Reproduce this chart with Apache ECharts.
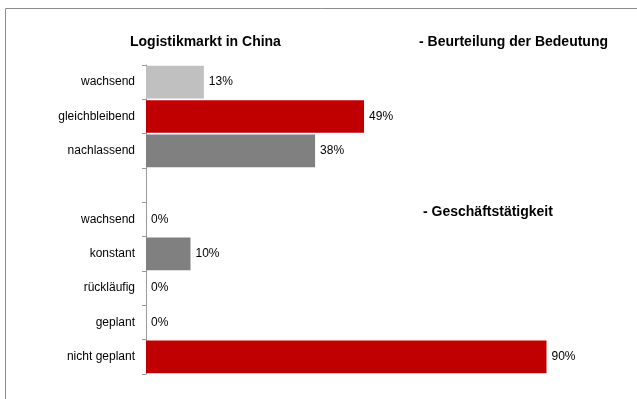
<!DOCTYPE html>
<html>
<head>
<meta charset="utf-8">
<script src="https://cdn.jsdelivr.net/npm/echarts@6/dist/echarts.min.js"></script>
<style>
html,body{margin:0;padding:0;background:#fff;}
#c{width:637px;height:399px;}
</style>
</head>
<body>
<div id="c"></div>
<script>
// Data
var categories = ['wachsend', 'gleichbleibend', 'nachlassend', '', 'wachsend', 'konstant', 'rückläufig', 'geplant', 'nicht geplant'];
var values = [13, 49, 38, null, 0, 10, 0, 0, 90];
var barColors = ['#C0C0C0', '#C00000', '#808080', '#808080', '#808080', '#808080', '#808080', '#808080', '#C00000'];
var titleMain = 'Logistikmarkt in China';
var titleGroup1 = '- Beurteilung der Bedeutung';
var titleGroup2 = '- Geschäftstätigkeit';

var chart = echarts.init(document.getElementById('c'), null, {renderer: 'canvas'});
var font = '"Liberation Sans", Arial, sans-serif';

var seriesData = values.map(function (v, i) {
  return {
    value: v === null ? '-' : v,
    itemStyle: {color: barColors[i]}
  };
});

chart.setOption({
  animation: false,
  backgroundColor: '#fff',
  textStyle: {fontFamily: font},
  graphic: [
    {type: 'rect', shape: {x: 5.5, y: 8.5, width: 660, height: 420},
     style: {fill: 'none', stroke: '#8c8c8c', lineWidth: 1}, z: -1},
    {type: 'text', left: 130, top: 35,
     style: {text: titleMain, font: 'bold 14px ' + font, fill: '#000'}},
    {type: 'text', left: 419, top: 35,
     style: {text: titleGroup1, font: 'bold 14px ' + font, fill: '#000'}},
    {type: 'text', left: 423, top: 205,
     style: {text: titleGroup2, font: 'bold 14px ' + font, fill: '#000'}}
  ],
  grid: {left: 146, right: 46, top: 65, bottom: 25, containLabel: false},
  xAxis: {
    type: 'value', min: 0, max: 100, show: false,
    splitLine: {show: false}
  },
  yAxis: {
    type: 'category',
    data: categories,
    inverse: true,
    axisLine: {show: true, lineStyle: {color: '#9a9a9a', width: 1}},
    axisTick: {show: true, length: 4, lineStyle: {color: '#9a9a9a'}},
    axisLabel: {color: '#000', fontSize: 12, fontFamily: font, margin: 11}
  },
  series: [{
    type: 'bar',
    data: seriesData,
    barCategoryGap: '5%',
    label: {
      show: true, position: 'right', distance: 5,
      color: '#000', fontSize: 12, fontFamily: font,
      formatter: function (p) { return (p.value === '-' || p.value == null) ? '' : p.value + '%'; }
    }
  }]
});
</script>
</body>
</html>
